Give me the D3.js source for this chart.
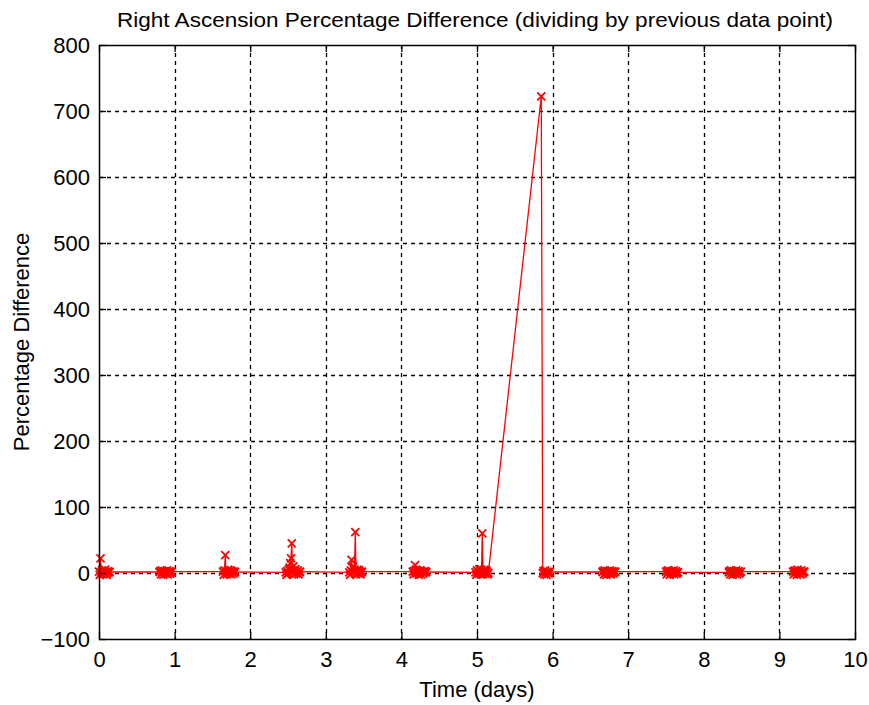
<!DOCTYPE html>
<html>
<head>
<meta charset="utf-8">
<script src="https://cdn.jsdelivr.net/npm/d3@7"></script>
<style>
body{margin:0;background:#fff;}
text{font-family:"Liberation Sans",Arial,sans-serif;fill:#000;}
</style>
</head>
<body>
<svg id="chart"></svg>
<script>
// chart values
var titleText = "Right Ascension Percentage Difference (dividing by previous data point)";
var xLabelText = "Time (days)";
var yLabelText = "Percentage Difference";
var xTicks = [0,1,2,3,4,5,6,7,8,9,10];
var yTicks = [-100,0,100,200,300,400,500,600,700,800];

// time in days, one row per pass
var days = [
  0.00,0.01,0.02,0.03,0.04,0.05,0.06,0.07,0.08,0.09,0.10,0.11,0.12,0.13,0.14,
  0.80,0.81,0.82,0.83,0.84,0.85,0.86,0.87,0.88,0.89,0.90,0.91,0.92,0.93,0.94,0.95,0.96,
  1.64,1.65,1.66,1.67,1.68,1.69,1.70,1.71,1.72,1.73,1.74,1.75,1.76,1.77,1.78,1.79,1.80,
  2.47,2.48,2.49,2.50,2.51,2.52,2.53,2.54,2.55,2.56,2.57,2.58,2.59,2.60,2.61,2.62,2.63,2.64,2.65,2.66,
  3.31,3.32,3.33,3.34,3.35,3.36,3.37,3.38,3.39,3.40,3.41,3.42,3.43,3.44,3.45,3.46,3.47,3.48,
  4.15,4.16,4.17,4.18,4.19,4.20,4.21,4.22,4.23,4.24,4.25,4.26,4.27,4.28,4.29,4.30,4.31,4.32,4.33,
  4.98,4.99,5.00,5.01,5.02,5.03,5.04,5.05,5.06,5.07,5.08,5.09,5.10,5.11,5.12,5.13,5.14,5.15,
  5.85,
  5.87,5.88,5.89,5.90,5.91,5.92,5.93,5.94,5.95,5.96,
  6.66,6.67,6.68,6.69,6.70,6.71,6.72,6.73,6.74,6.75,6.76,6.77,6.78,6.79,6.80,6.81,6.82,6.83,
  7.50,7.51,7.52,7.53,7.54,7.55,7.56,7.57,7.58,7.59,7.60,7.61,7.62,7.63,7.64,7.65,7.66,
  8.33,8.34,8.35,8.36,8.37,8.38,8.39,8.40,8.41,8.42,8.43,8.44,8.45,8.46,8.47,8.48,8.49,
  9.18,9.19,9.20,9.21,9.22,9.23,9.24,9.25,9.26,9.27,9.28,9.29,9.30,9.31,9.32,9.33
];
var pctDiff = [
  2,-3,22,1,4,-2,3,-1,5,2,-3,0,3,1,1.5,
  1.5,3,-2,4,1,-3,2,3,-1,2,4,-2,1,3,-1,1,2,
  2,-3,4,27,1,-2,3,5,-1,2,4,-2,3,1,-1,2,1.5,
  1,-3,3,-1,5,8,15,22,45,4,10,-2,3,6,-1,2,4,-2,1,2,
  1,-3,4,20,8,10,2,5,62,-2,3,5,-1,4,2,-2,1,2,
  2,-2,3,12,5,-1,4,1,-3,2,4,-2,3,1,-1,2,3,1,1.5,
  1,-3,4,2,-1,6,3,-2,5,60,-2,3,5,-1,4,2,-2,0,
  722,
  0,3,-2,4,1,-3,2,1,-1,1.5,
  1.5,3,-2,4,1,-3,2,3,-1,2,4,-2,1,3,-1,2,1,2,
  2,-2,3,4,1,-3,2,3,-1,2,4,-2,1,3,-1,1,1,
  1,3,-2,4,1,-3,2,3,-1,2,4,-2,1,3,-1,1,2,
  2,-2,3,4,1,-3,5,2,-1,3,-2,4,1,-1,2,2
];

var W = 869, H = 705;
var m = {top:45, right:14, bottom:66, left:99};
var pw = W - m.left - m.right, ph = H - m.top - m.bottom;

var svg = d3.select("#chart").attr("width", W).attr("height", H);
var x = d3.scaleLinear().domain([0,10]).range([0,pw]);
var y = d3.scaleLinear().domain([-100,800]).range([ph,0]);

var g = svg.append("g").attr("transform","translate("+m.left+","+m.top+")");

// grid
g.append("g").selectAll("line").data(xTicks.slice(1,-1)).enter().append("line")
  .attr("x1",d=>Math.round(x(d))+0.5).attr("x2",d=>Math.round(x(d))+0.5).attr("y1",0).attr("y2",ph)
  .attr("stroke","#000").attr("stroke-width",1.3).attr("stroke-dasharray","4,4");
g.append("g").selectAll("line").data(yTicks.slice(1,-1)).enter().append("line")
  .attr("y1",d=>Math.round(y(d))+0.5).attr("y2",d=>Math.round(y(d))+0.5).attr("x1",0).attr("x2",pw)
  .attr("stroke","#000").attr("stroke-width",1.3).attr("stroke-dasharray","4,4");

// data line + x markers
var pts = days.map((d,i)=>[d,pctDiff[i]]);
var line = d3.line().x(d=>x(d[0])).y(d=>y(d[1]));
g.append("path").datum(pts).attr("d",line).attr("fill","none").attr("stroke","#f00").attr("stroke-width",1.3);
var ms = 4;
g.append("g").selectAll("path").data(pts).enter().append("path")
  .attr("d",d=>{var cx=x(d[0]),cy=y(d[1]);return "M"+(cx-ms)+","+(cy-ms)+"L"+(cx+ms)+","+(cy+ms)+"M"+(cx-ms)+","+(cy+ms)+"L"+(cx+ms)+","+(cy-ms);})
  .attr("stroke","#f00").attr("stroke-width",1.8).attr("fill","none");

// axes, ticks inside on all four sides
var tl = 7;
var ax = function(gen, tr){
  var a = g.append("g").attr("transform",tr).call(gen);
  a.select(".domain").remove();
  a.selectAll("line").attr("stroke","#000").attr("stroke-width",1.3);
  a.selectAll("text").style("font-size","22px").style("font-family","Liberation Sans, Arial, sans-serif");
  return a;
};
ax(d3.axisBottom(x).tickValues(xTicks).tickSize(-tl).tickPadding(tl+5).tickFormat(d3.format("d")), "translate(0,"+ph+")");
ax(d3.axisTop(x).tickValues(xTicks).tickSize(-tl).tickFormat(""), "translate(0,0)");
ax(d3.axisLeft(y).tickValues(yTicks).tickSize(-tl).tickPadding(tl+2).tickFormat(d3.format("d")), "translate(0,0)");
ax(d3.axisRight(y).tickValues(yTicks).tickSize(-tl).tickFormat(""), "translate("+pw+",0)");

g.append("rect").attr("x",0.5).attr("y",0.5).attr("width",pw).attr("height",ph)
  .attr("fill","none").attr("stroke","#000").attr("stroke-width",1.5);

// labels
svg.append("text").attr("x",m.left+pw/2-2).attr("y",27).attr("text-anchor","middle")
  .attr("textLength",716).attr("lengthAdjust","spacingAndGlyphs")
  .style("font-size","21px").text(titleText);
svg.append("text").attr("x",m.left+pw/2).attr("y",697).attr("text-anchor","middle")
  .style("font-size","22px").text(xLabelText);
svg.append("text").attr("transform","translate(29,"+(m.top+ph/2)+") rotate(-90)").attr("text-anchor","middle")
  .style("font-size","22px").text(yLabelText);
</script>
</body>
</html>
